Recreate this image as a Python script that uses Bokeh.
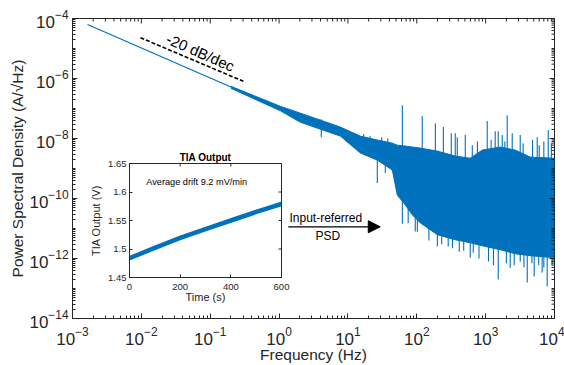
import math
from bokeh.plotting import figure
from bokeh.models import (FixedTicker, Arrow, NormalHead, Label, Range1d, CustomJSTickFormatter)
from bokeh.layouts import column
from bokeh.embed import file_html
from bokeh.resources import INLINE

BLUE = "#0072BD"
INK = "#262626"
FONT = "Liberation Sans"

# ---------------- data ----------------
trend_freq = [1.65e-3, 0.2]
trend_psd = [6.3e-5, 5.2e-7]

band_freq = [0.2, 0.535, 1.04, 2.04, 3.97, 7.76, 15.1, 26.7, 44.1, 52.1, 68.1, 86.0,
             112, 199, 362, 597, 893, 1629, 2690, 4440, 1e4]
band_upper = [5.5e-7, 2.2e-7, 1.19e-7, 7.0e-8, 4.1e-8, 2.4e-8, 1.2e-8, 8.9e-9, 7.0e-9,
              6.0e-9, 5.6e-9, 5.2e-9, 4.8e-9, 3.8e-9, 2.6e-9, 2.2e-9, 4.1e-9, 5.2e-9,
              4.1e-9, 2.4e-9, 2.2e-9]
band_lower = [4.7e-7, 1.68e-7, 8.45e-8, 3.5e-8, 2.05e-8, 1.2e-8, 3.3e-9, 1.9e-9, 8.9e-10,
              1.3e-10, 6.1e-11, 2.85e-11, 1.55e-11, 6.2e-12, 4.2e-12, 3.35e-12, 2.66e-12,
              1.96e-12, 1.44e-12, 1.24e-12, 1.06e-12]

spike_freq = [4.1, 26.7, 34.9, 61.7, 102, 120, 186, 199, 243, 286, 317, 362, 387, 414,
              506, 597, 661, 1054, 1377, 1524, 1742, 2057, 2275, 2432, 3176, 4020, 5070,
              5610, 6620, 7830, 8110,
              17, 21, 31, 38, 640, 760, 1200, 1900, 3500, 4800, 6000, 7000, 9000,
              75, 95, 150, 230, 330, 480, 800, 1100, 1300, 2000, 2600, 3600, 4700, 5900,
              7000, 9200]
spike_hi = [4.4e-8, 5e-9, 5e-9, 1.29e-7, 1e-9, 5.5e-8, 3.25e-8, 1e-10, 2.4e-8, 1e-10,
            1.5e-8, 1.5e-8, 1.1e-8, 1e-10, 1.3e-8, 1e-10, 1e-10, 3.8e-8, 1.76e-8, 1.76e-8,
            1.3e-8, 6.0e-8, 1e-10, 1.5e-8, 1.3e-8, 1e-10, 1e-10, 1.1e-8, 1e-10, 1e-10, 1.9e-8,
            1.4e-8, 1.2e-8, 1.1e-8, 1.0e-8, 6e-9, 8e-9, 9e-9, 8e-9, 7e-9, 9e-9, 6e-9, 8e-9,
            7e-9,
            1e-10, 1e-10, 1e-10, 1e-10, 1e-10, 1e-10, 1e-10, 1e-10, 1e-10, 1e-10, 1e-10,
            1e-10, 1e-10, 1e-10, 1e-10, 1e-10]
spike_lo = [1.1e-8, 3.3e-10, 7.1e-10, 1.43e-11, 7.8e-12, 1e-9, 1e-9, 2.5e-12, 1e-9,
            2.5e-12, 1e-9, 1e-9, 1e-9, 1.68e-12, 1e-9, 1.06e-12, 1.56e-12, 1e-9, 1e-9,
            1.98e-13, 1e-9, 1e-9, 4.9e-13, 1e-9, 7.8e-13, 1.57e-13, 2.5e-13, 1e-9, 3.4e-13,
            1.16e-13, 1e-9,
            3e-9, 3e-9, 2e-9, 1.5e-9, 1e-9, 1e-9, 1e-9, 1e-9, 1e-9, 1e-9, 1e-9, 1e-9, 1e-9,
            1.5e-11, 8e-12, 4e-12, 3e-12, 2.2e-12, 1.8e-12, 1.0e-12, 8e-13, 6e-13, 7e-13,
            6e-13, 5e-13, 7e-13, 6e-13, 5e-13, 6e-13]

guide_freq = [9.7e-3, 0.303]
guide_psd = [2.29e-5, 8.07e-7]

x_ticks = [1e-3, 1e-2, 1e-1, 1e0, 1e1, 1e2, 1e3, 1e4]
y_ticks = [1e-14, 1e-12, 1e-10, 1e-8, 1e-6, 1e-4]

time_s = [0, 100, 200, 300, 400, 500, 600]
tia_v = [1.484, 1.502, 1.5195, 1.535, 1.55, 1.565, 1.579]
inset_xticks = [0, 200, 400, 600]
inset_yticks = [1.45, 1.5, 1.55, 1.6, 1.65]

x_minor = [m * 10.0 ** k for k in range(-3, 4) for m in range(2, 10)]
y_minor = [m * 10.0 ** k for k in range(-14, -4) for m in range(1, 10)]

X0, X1 = 1e-3, 1e4
Y0, Y1 = 1e-14, 1e-4

# ---------------- main figure ----------------
p = figure(width=564, height=365, x_axis_type="log", y_axis_type="log",
           x_range=Range1d(X0, X1), y_range=Range1d(Y0, Y1),
           output_backend="svg", toolbar_location=None, frame_align=False,
           min_border_left=72, min_border_right=10, min_border_top=18, min_border_bottom=46)
p.grid.visible = False
p.outline_line_color = INK

p.varea(x=band_freq, y1=band_lower, y2=band_upper, fill_color=BLUE)
p.line(band_freq, band_upper, line_color=BLUE, line_width=1)
p.line(band_freq, band_lower, line_color=BLUE, line_width=1)
p.line(trend_freq, trend_psd, line_color=BLUE, line_width=1.2)
p.segment(x0=spike_freq, y0=spike_lo, x1=spike_freq, y1=spike_hi, line_color=BLUE, line_width=1.1)
p.line(guide_freq, guide_psd, line_color="black", line_width=1.6, line_dash="4 2")

# tick marks on the top and right edges (outer half is clipped by the frame)
p.scatter(x=x_ticks, y=[Y1] * len(x_ticks), marker="dash", angle=math.pi / 2, size=10, line_color=INK)
p.scatter(x=x_minor, y=[Y1] * len(x_minor), marker="dash", angle=math.pi / 2, size=6, line_color=INK)
p.scatter(x=[X1] * len(y_ticks), y=y_ticks, marker="dash", size=10, line_color=INK)
p.scatter(x=[X1] * len(y_minor), y=y_minor, marker="dash", size=6, line_color=INK)

p.xaxis.ticker = FixedTicker(ticks=x_ticks, minor_ticks=x_minor)
p.yaxis.ticker = FixedTicker(ticks=y_ticks, minor_ticks=y_minor)
p.xaxis.axis_label = "Frequency (Hz)"
p.yaxis.axis_label = "Power Spectral Density (A/\u221aHz)"

for ax in (p.xaxis[0], p.yaxis[0]):
    ax.major_tick_in = 5
    ax.major_tick_out = 0
    ax.minor_tick_in = 3
    ax.minor_tick_out = 0
    ax.axis_line_color = INK
    ax.major_tick_line_color = INK
    ax.minor_tick_line_color = INK
    ax.major_label_text_font = FONT
    ax.major_label_text_font_size = "17px"
    ax.major_label_text_color = INK
    ax.axis_label_text_font = FONT
    ax.axis_label_text_font_size = "15.5px"
    ax.axis_label_text_font_style = "normal"
    ax.axis_label_text_color = INK
p.xaxis.major_label_standoff = 8
p.xaxis.axis_label_standoff = -2
p.yaxis.major_label_standoff = 4
p.yaxis.axis_label_standoff = 0

p.add_layout(Label(x=0.0721, y=7.4e-6, text="-20 dB/dec", angle=-0.412, angle_units="rad",
                   text_align="center", text_baseline="middle", text_font=FONT,
                   text_font_size="15px", text_color="black"))
p.add_layout(Arrow(end=NormalHead(size=12, fill_color="black", line_color="black"),
                   x_start=1.36, y_start=1.14e-11, x_end=29.5, y_end=1.14e-11,
                   line_color="black", line_width=1.3))
p.add_layout(Label(x=4.78, y=2.26e-11, text="Input-referred", text_align="center",
                   text_baseline="middle", text_font=FONT, text_font_size="12px",
                   text_color="black"))
p.add_layout(Label(x=5.1, y=5.7e-12, text="PSD", text_align="center",
                   text_baseline="middle", text_font=FONT, text_font_size="12px",
                   text_color="black"))

# ---------------- inset ----------------
T0, T1 = 0, 600
V0, V1 = 1.45, 1.65
ins = figure(width=204, height=162, x_range=Range1d(T0, T1), y_range=Range1d(V0, V1),
             output_backend="svg", toolbar_location=None, title="TIA Output", frame_align=False,
             min_border_left=42, min_border_right=10, min_border_top=18, min_border_bottom=30)
ins.grid.visible = False
ins.outline_line_color = INK
ins.background_fill_alpha = 0
ins.border_fill_alpha = 0
ins.title.align = "center"
ins.title.text_font = FONT
ins.title.text_font_size = "10px"
ins.title.text_font_style = "bold"
ins.title.text_color = "black"
ins.title.standoff = 2
ins.line(time_s, tia_v, line_color=BLUE, line_width=4.5)
ins.scatter(x=inset_xticks, y=[V1] * len(inset_xticks), marker="dash", angle=math.pi / 2,
            size=6, line_color=INK)
ins.scatter(x=[T1] * len(inset_yticks), y=inset_yticks, marker="dash", size=6, line_color=INK)
ins.xaxis.ticker = FixedTicker(ticks=inset_xticks)
ins.yaxis.ticker = FixedTicker(ticks=inset_yticks)
ins.yaxis.formatter = CustomJSTickFormatter(code="return tick.toFixed(2).replace(/0$/, '')")
ins.xaxis.axis_label = "Time (s)"
ins.yaxis.axis_label = "TIA Output (V)"
for ax in (ins.xaxis[0], ins.yaxis[0]):
    ax.major_tick_in = 3
    ax.major_tick_out = 0
    ax.minor_tick_line_color = None
    ax.axis_line_color = INK
    ax.major_tick_line_color = INK
    ax.major_label_text_font = FONT
    ax.major_label_text_font_size = "9.5px"
    ax.major_label_text_color = INK
    ax.axis_label_text_font = FONT
    ax.axis_label_text_font_size = "11px"
    ax.axis_label_text_font_style = "normal"
    ax.axis_label_text_color = INK
ins.xaxis.major_label_standoff = 6
ins.xaxis.axis_label_standoff = -2
ins.yaxis.major_label_standoff = 3
ins.yaxis.axis_label_standoff = 3
ins.add_layout(Label(x=66, y=1.617, text="Average drift 9.2 mV/min", text_align="left",
                     text_baseline="middle", text_font=FONT, text_font_size="9.2px",
                     text_color="black"))

ins.styles = {"position": "absolute", "left": "87px", "top": "145px"}
lay = column(p, ins)
lay.styles = {"position": "relative"}

open("out.html", "w").write(file_html(lay, INLINE))
